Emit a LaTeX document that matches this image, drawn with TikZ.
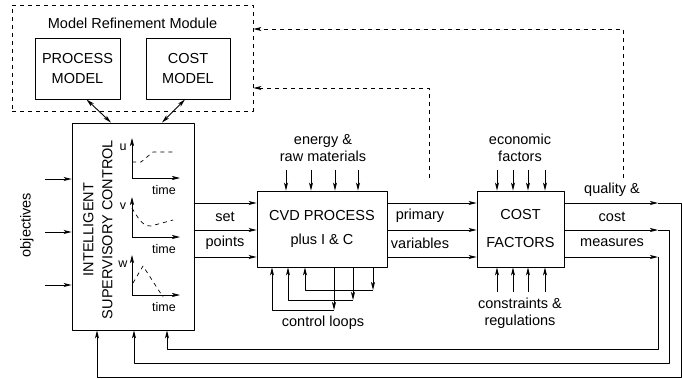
\documentclass[tikz,border=0pt]{standalone}
\usepackage{fontspec}
\setmainfont{Liberation Sans}
\usetikzlibrary{arrows.meta}
\tikzset{
	block/.style={draw,line width=0.9pt,inner sep=0pt,align=center},
	txt/.style={inner sep=0pt,align=center},
	small/.style={inner sep=0pt,font=\fontsize{12.5}{14}\selectfont},
	fb/.style={dash pattern=on 4pt off 4pt}
}

\begin{document}
\begin{tikzpicture}[x=1pt,y=-1pt,line width=0.9pt,line join=round,
	>={Stealth[length=8pt,width=4pt,inset=2pt]},font=\fontsize{14.5}{17}\selectfont]
	\useasboundingbox (0,0) rectangle (683,378);
	% model refinement
	\node[block,fb,minimum width=241pt,minimum height=106pt] (mrm) at (132.5,58) {};
	\node[txt] (mrmtitle) at (132.5,23) {Model Refinement Module};
	\node[block,minimum width=85pt,minimum height=61pt] (pm) at (77.5,68.5) {PROCESS\\[3pt]MODEL};
	\node[block,minimum width=84pt,minimum height=61pt] (cm) at (188,68.5) {COST\\[3pt]MODEL};
	% main blocks
	\node[block,minimum width=122pt,minimum height=207pt] (isc) at (133,226.5) {};
	\node[txt,rotate=90] (isctext) at (98,229.5) {INTELLIGENT\\[2pt]SUPERVISORY CONTROL};
	\node[block,minimum width=130pt,minimum height=76pt] (cvd) at (322,229) {CVD PROCESS\\[7pt]plus I \& C};
	\node[block,minimum width=87pt,minimum height=76pt] (cost) at (520.5,229) {COST\\[11pt]FACTORS};
	\draw[<->] ([xshift=9pt]pm.south) -- ([xshift=-22pt]isc.north);
	\draw[<->] ([xshift=-3pt]cm.south) -- ([xshift=29pt]isc.north);
	% little trend plots
	\foreach \b/\n in {178/u,237/v,295/w}
	{
		\draw[->,line width=0.7pt] (132,\b) -- (132,\b-40);
		\draw[->,line width=0.7pt] (132,\b) -- (180,\b);
		\node[small] at (123,\b-31) {\n};
		\node[small] at (164,\b+12) {time};
	}
	\draw[fb,line width=0.7pt] (132,162) -- (141,162) -- (153,152) -- (175,152);
	\draw[fb,line width=0.7pt] (132,208) .. controls (140,222) and (145,227) .. (151,226) -- (173,220);
	\draw[fb,line width=0.7pt] (133,283) -- (143,266) -- (163,297);
	% inputs
	\node[txt,rotate=90] (obj) at (27,225) {objectives};
	\foreach \y in {179,232,285}
		\draw[->] (45,\y) -- (isc.west |- 0,\y);
	\foreach \y in {203,230,257}
	{
		\draw[->] (isc.east |- 0,\y) -- (cvd.west |- 0,\y);
		\draw[->] (cvd.east |- 0,\y) -- (cost.west |- 0,\y);
	}
	\node[txt] (set) at (225,217) {set};
	\node[txt] (pts) at (225,243) {points};
	\node[txt] (prim) at (420,216) {primary};
	\node[txt] (vars) at (420,243) {variables};
	% energy and economic inputs
	\node[txt] (energy) at (323,148) {energy \&\\[-0.5pt]raw materials};
	\foreach \x in {286,311,335,358}
		\draw[->] (\x,170) -- (cvd.north -| \x,0);
	\node[txt] (econ) at (520,148) {economic\\[-0.5pt]factors};
	\foreach \x in {497,513,528,545}
	{
		\draw[->] (\x,170) -- (cost.north -| \x,0);
		\draw[->] (\x,292) -- (cost.south -| \x,0);
	}
	\node[txt] (constr) at (520,313) {constraints \&\\[-0.5pt]regulations};
	% control loops
	\foreach \o/\i/\l in {334/272/310,353/288/300,373/305/290}
	{
		\draw[->] (cvd.south -| \o,0) -- (\o,\l);
		\draw[->] (\o,\l) -| (cvd.south -| \i,0);
	}
	\node[txt] (loops) at (323,323) {control loops};
	% outputs and feedback
	\node[txt] (qual) at (612,190) {quality \&};
	\node[txt] (cst) at (612,217) {cost};
	\node[txt] (meas) at (612,243) {measures};
	\foreach \y/\xr/\yb/\xl in {203/681/377/97,230/669/363/134,257/658/349/167}
	{
		\draw[->] (cost.east |- 0,\y) -- (658,\y);
		\draw[->] (658,\y) -| (\xr,\yb) -| (isc.south -| \xl,0);
	}
	\draw[fb,->] (429,178) |- (mrm.east |- 0,88);
	\draw[fb,->] (623,178) |- (mrm.east |- 0,29);
\end{tikzpicture}
\end{document}
